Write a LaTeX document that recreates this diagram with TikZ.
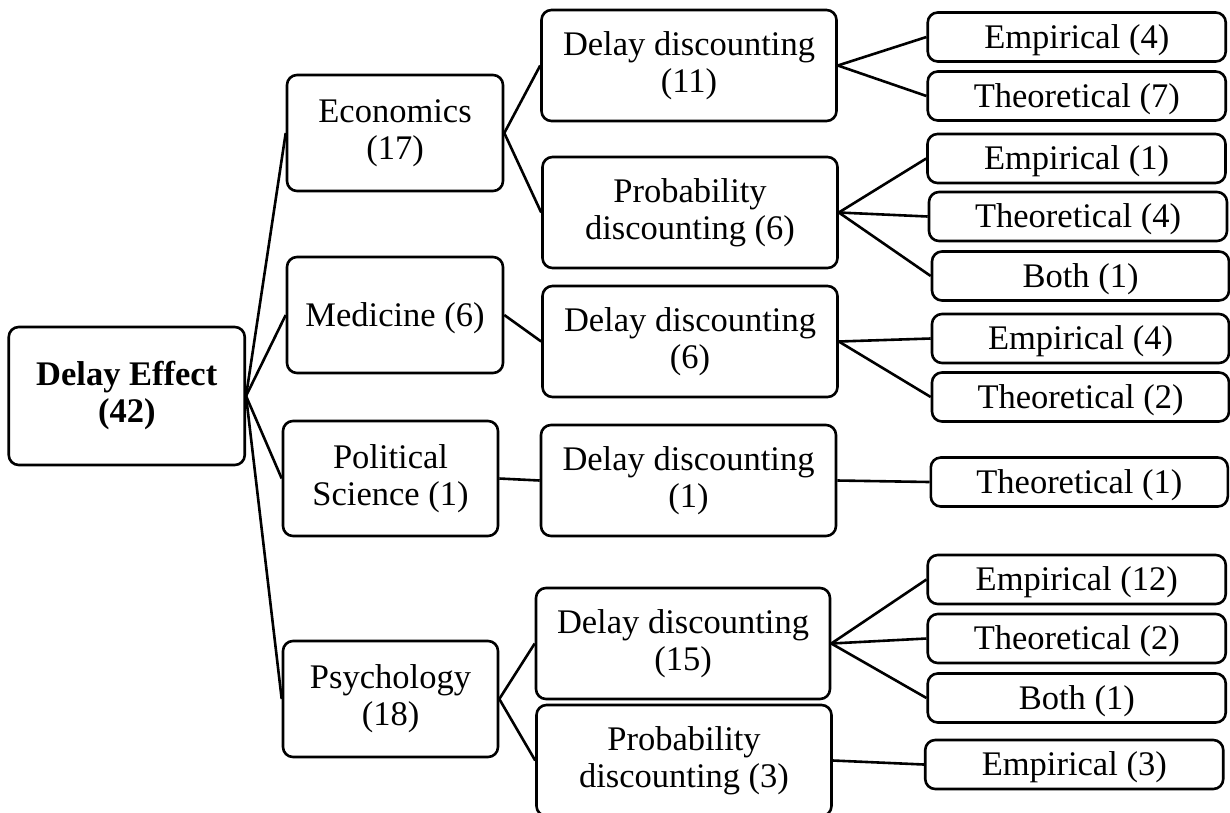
\documentclass[tikz,border=0pt]{standalone}
\usepackage{fontspec}
\setmainfont{Liberation Serif}
\begin{document}
\begin{tikzpicture}[x=1pt,y=-1pt,
  box/.style={draw, line width=2.6pt, rounded corners=10pt, align=center,
    inner sep=0pt, font=\fontsize{34.5}{37}\selectfont,
    execute at begin node={\rule{0pt}{30pt}}},
  mid/.style={box, minimum width=216pt, minimum height=116pt},
  sub/.style={box, minimum width=295pt, minimum height=111pt},
  leaf/.style={box, minimum width=298pt, minimum height=49pt},
  link/.style={line width=2.6pt}]
\useasboundingbox (0,0) rectangle (1230,812);

% root
\node[box, minimum width=236pt, minimum height=138pt, font=\fontsize{34.5}{37}\selectfont\bfseries]
  (root) at (126.75,396) {Delay Effect\\(42)};

% disciplines
\node[mid] (econ) at (395,133) {Economics\\(17)};
\node[mid] (med)  at (395,315) {Medicine (6)};
\node[mid, minimum width=215pt, minimum height=115pt] (pol) at (390.5,478.5) {Political\\Science (1)};
\node[mid, minimum width=215pt] (psy) at (390.5,699) {Psychology\\(18)};

% discounting types
\node[sub] (dd11) at (689,65.5)   {Delay discounting\\(11)};
\node[sub] (pd6)  at (690,212.5)  {Probability\\discounting (6)};
\node[sub] (dd6)  at (690,341.5)  {Delay discounting\\(6)};
\node[sub] (dd1)  at (688.5,480.5) {Delay discounting\\(1)};
\node[sub, minimum width=294pt] (dd15) at (683,643.5) {Delay discounting\\(15)};
\node[sub] (pd3)  at (684,760.5)  {Probability\\discounting (3)};

% study kinds
\node[leaf] (e4)  at (1076.75,37)   {Empirical (4)};
\node[leaf] (t7)  at (1076.75,96)   {Theoretical (7)};
\node[leaf] (e1)  at (1076.5,158.5) {Empirical (1)};
\node[leaf] (t4)  at (1078,216.5)   {Theoretical (4)};
\node[leaf, minimum width=297pt] (b1)  at (1080.5,276)   {Both (1)};
\node[leaf, minimum width=297pt] (e4b) at (1080.5,338.5) {Empirical (4)};
\node[leaf, minimum width=297pt] (t2)  at (1080.5,397)   {Theoretical (2)};
\node[leaf, minimum width=297pt] (t1)  at (1079.3,482)   {Theoretical (1)};
\node[leaf] (e12) at (1076.75,579.5) {Empirical (12)};
\node[leaf] (t2b) at (1076.75,638.5) {Theoretical (2)};
\node[leaf] (b1b) at (1076.75,698)   {Both (1)};
\node[leaf] (e3)  at (1074.25,764.5) {Empirical (3)};

% connectors
\foreach \c in {econ,med,pol,psy} \draw[link] (root.east) -- (\c.west);
\draw[link] (econ.east) -- (dd11.west);
\draw[link] (econ.east) -- (pd6.west);
\draw[link] (med.east) -- (dd6.west);
\draw[link] (pol.east) -- (dd1.west);
\draw[link] (psy.east) -- (dd15.west);
\draw[link] (psy.east) -- (pd3.west);
\foreach \c in {e4,t7} \draw[link] (dd11.east) -- (\c.west);
\foreach \c in {e1,t4,b1} \draw[link] (pd6.east) -- (\c.west);
\foreach \c in {e4b,t2} \draw[link] (dd6.east) -- (\c.west);
\draw[link] (dd1.east) -- (t1.west);
\foreach \c in {e12,t2b,b1b} \draw[link] (dd15.east) -- (\c.west);
\draw[link] (pd3.east) -- (e3.west);
\end{tikzpicture}
\end{document}
